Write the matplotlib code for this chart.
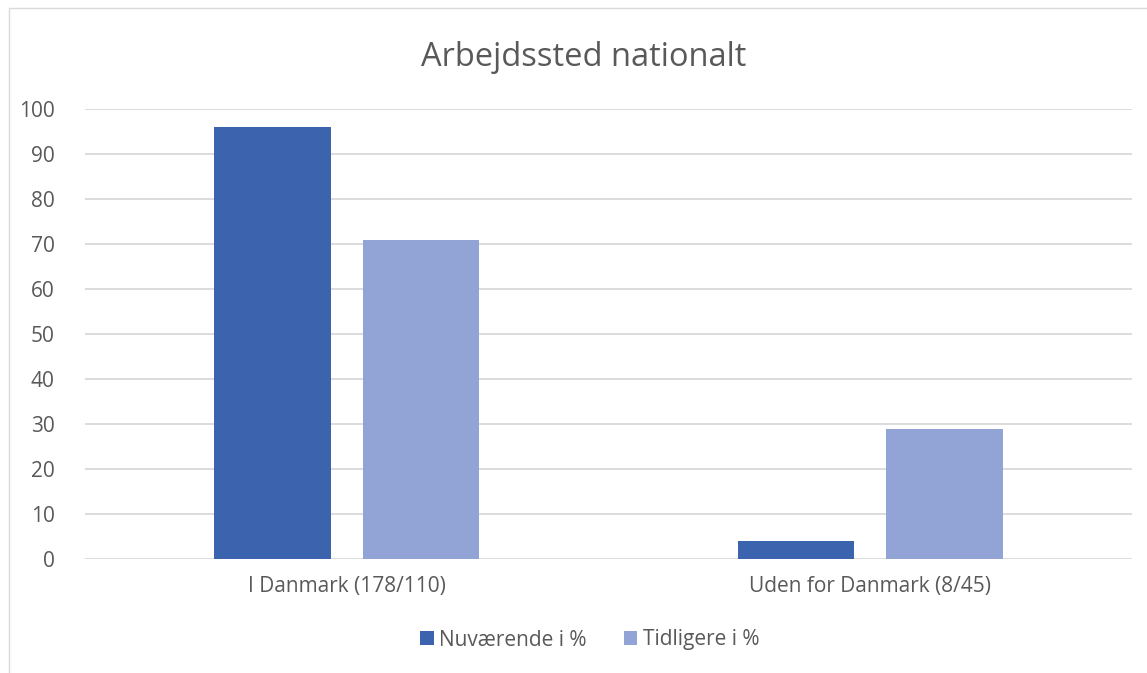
import matplotlib.pyplot as plt
import numpy as np
from matplotlib.patches import Rectangle

categories = ["I Danmark (178/110)", "Uden for Danmark (8/45)"]
nuvaerende = [96, 4]
tidligere = [71, 29]
series_names = ["Nuværende i %", "Tidligere i %"]

plt.rcParams['font.family'] = ['Open Sans', 'DejaVu Sans']
text_color = "#595959"

fig = plt.figure(figsize=(11.47, 6.73), dpi=100)
ax = fig.add_axes([85 / 1147, 1 - 559 / 673, 1047 / 1147, 450 / 673])

# chart border
fig.patches.append(Rectangle((9 / 1147, -0.01), 1.02, 1 - 8 / 673 + 0.01,
                             transform=fig.transFigure, fill=False,
                             edgecolor="#d9d9d9", linewidth=1))

x = np.arange(len(categories))
w = 0.222
off = 0.142
ax.bar(x - off, nuvaerende, w, color="#3c64ae", label=series_names[0], zorder=3)
ax.bar(x + off, tidligere, w, color="#91a4d5", label=series_names[1], zorder=3)

ax.set_xlim(-0.5, 1.5)
ax.set_ylim(0, 100)
ax.set_yticks(range(0, 101, 10))
ax.yaxis.grid(True, color="#d9d9d9", linewidth=1.3, zorder=0)
ax.set_xticks(x)
ax.set_xticklabels(categories)
ax.tick_params(axis="both", length=0, labelsize=15, colors=text_color)
ax.tick_params(axis="x", pad=12)
ax.tick_params(axis="y", pad=22)
for s in ax.spines.values():
    s.set_visible(False)

fig.suptitle("Arbejdssted nationalt", x=0.509, y=0.939, fontsize=23.5, color=text_color)

ax.legend(loc="upper center", bbox_to_anchor=(0.482, -0.115), ncol=2, frameon=False,
          fontsize=15, labelcolor=text_color, handlelength=0.65, handleheight=0.65,
          handletextpad=0.25, columnspacing=1.8)

fig.savefig("out.png", dpi=100)
